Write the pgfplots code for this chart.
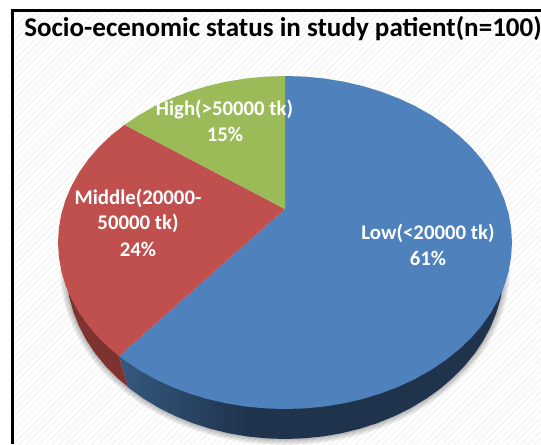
\documentclass[border=0pt]{standalone}
\usepackage{fontspec}
\setmainfont{Carlito}
\usepackage{pgfplots}
\pgfplotsset{compat=1.18}
\usetikzlibrary{patterns.meta}
\definecolor{cblue}{HTML}{4F81BD}
\definecolor{cred}{HTML}{C0504D}
\definecolor{cgreen}{HTML}{9BBB59}
\definecolor{dred}{HTML}{7F3331}
\definecolor{dblueL}{HTML}{34597F}
\definecolor{dblueR}{HTML}{1F334D}
\begin{document}
\begin{tikzpicture}
\useasboundingbox (0,0) rectangle (405.75pt,333pt);
\begin{axis}[at={(0,0)},anchor=south west,scale only axis,width=405.75pt,height=333pt,
  xmin=0,xmax=541,ymin=0,ymax=444,y dir=reverse,hide axis,clip=true]
% panel background
\addplot[draw=none,fill=white,forget plot] coordinates {(12,10)(541,10)(541,444)(12,444)} --cycle;
\addplot[draw=none,pattern={Lines[angle=45,distance=3.5pt,line width=1.2pt]},pattern color=black!3.5,forget plot]
  coordinates {(12,10)(541,10)(541,444)(12,444)} --cycle;
\addplot[black,line width=1.9pt,forget plot] coordinates {(541,10.5)(12.5,10.5)(12.5,444)};
% soft shadow under the disc
\pgfplotsinvokeforeach{9,6.5,4,2}{
\addplot[black,opacity=0.07,line width=#1pt,forget plot,line join=round] coordinates {
(504,268)(503.2,282.9)(500.7,297.7)(496.5,312.3)(490.8,326.5)(483.5,340.3)(474.7,353.5)(464.4,366.1)(452.8,377.9)(439.9,388.9)(425.8,399)(410.6,408.1)(394.5,416.1)(377.6,423)(359.9,428.7)(341.7,433.2)(323,436.4)(304.1,438.3)(285,439)(265.9,438.3)(247,436.4)(228.3,433.2)(210.1,428.7)(192.4,423)(175.5,416.1)(159.4,408.1)(144.2,399)(130.1,388.9)(117.2,377.9)(105.6,366.1)(95.3,353.5)(86.5,340.3)(79.2,326.5)(73.5,312.3)(69.3,297.7)(66.8,282.9)(66,268)};
}
% side wall, blue: solid right part, then the graded left part
\addplot[draw=none,fill=dblueR,forget plot] coordinates {
(247,300)(247,436.4)(265.9,438.3)(285,439)(304.1,438.3)(323,436.4)(341.7,433.2)(359.9,428.7)(377.6,423)(394.5,416.1)(410.6,408.1)(425.8,399)(439.9,388.9)(452.8,377.9)(464.4,366.1)(474.7,353.5)(483.5,340.3)(490.8,326.5)(496.5,312.3)(500.7,297.7)(503.2,282.9)(504,268)(285,268)} --cycle;
\addplot[draw=none,left color=dblueL,right color=dblueR,forget plot] coordinates {
(119,356.1)(128,387)(130.1,388.9)(144.2,399)(159.4,408.1)(175.5,416.1)(192.4,423)(210.1,428.7)(228.3,433.2)(247.4,436.4)(247.4,300)} --cycle;
% side wall, red
\addplot[draw=none,fill=dred,forget plot] coordinates {
(119,356.1)(128,387)(117.2,377.9)(105.6,366.1)(95.3,353.5)(86.5,340.3)(79.2,326.5)(73.5,312.3)(69.3,297.7)(66.8,282.9)(66,268)(119,268)} --cycle;
% Low 61%
\addplot[draw=none,fill=cblue,forget plot] coordinates {
(285,209)(285,76)(304.8,76.6)(324.4,78.5)(343.8,81.7)(362.6,86)(380.9,91.6)(398.5,98.3)(415.2,106.1)(430.9,115)(445.5,124.8)(458.9,135.5)(471,147)(481.6,159.25)(490.7,172.1)(498.3,185.6)(504.3,199.4)(508.6,213.6)(511.1,228)(512,242.5)(511.1,257)(508.6,271.4)(504.3,285.6)(498.3,299.4)(490.7,312.9)(481.6,325.75)(471,338)(458.9,349.5)(445.5,360.2)(430.9,370)(415.2,378.9)(398.5,386.7)(380.9,393.4)(362.6,399)(343.8,403.3)(324.4,406.5)(304.8,408.4)(285,409)(265.2,408.4)(245.6,406.5)(226.2,403.3)(207.4,399)(189.1,393.4)(171.5,386.7)(154.8,378.9)(139.1,370)(124.5,360.2)(119,356.1)} --cycle;
% Middle 24%
\addplot[draw=none,fill=cred,forget plot] coordinates {
(285,209)(119,356.1)(111.1,349.5)(99,338)(88.4,325.75)(79.3,312.9)(71.7,299.4)(65.7,285.6)(61.4,271.4)(58.9,257)(58,242.5)(58.9,228)(61.4,213.6)(65.7,199.4)(71.7,185.6)(79.3,172.1)(88.4,159.25)(99,147)(111.1,135.5)(124.5,124.8)} --cycle;
% High 15%
\addplot[draw=none,fill=cgreen,forget plot] coordinates {
(285,209)(124.5,124.8)(139.1,115)(154.8,106.1)(171.5,98.3)(189.1,91.6)(207.4,86)(226.2,81.7)(245.6,78.5)(265.2,76.6)(285,76)} --cycle;
% labels
\node[anchor=base west,inner sep=0pt,font=\fontsize{20.3pt}{22pt}\selectfont\bfseries,black] at (axis cs:24,36) {Socio-ecenomic status in study patient(n=100)};
\tikzset{lab/.style={anchor=center,inner sep=0pt,text=white,font=\fontsize{15.6pt}{17pt}\selectfont\bfseries}}
\node[lab] at (axis cs:224.5,110) {High(>50000 tk)};
\node[lab] at (axis cs:225,134) {15\%};
\node[lab] at (axis cs:138,198) {Middle(20000-};
\node[lab] at (axis cs:138,223) {50000 tk)};
\node[lab] at (axis cs:138,249) {24\%};
\node[lab] at (axis cs:428,233) {Low(<20000 tk)};
\node[lab] at (axis cs:428,258) {61\%};
\end{axis}
\end{tikzpicture}
\end{document}
